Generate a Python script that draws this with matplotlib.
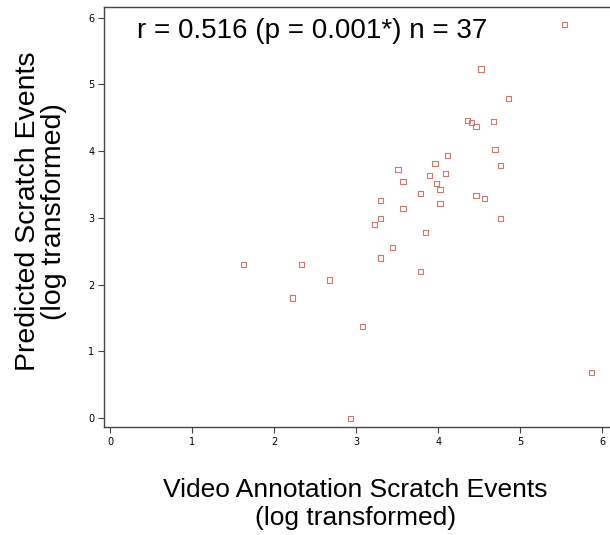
import numpy as np
import matplotlib.pyplot as plt

# video annotation (x) vs predicted (y) scratch events, both log transformed
video = [1.63, 2.22, 2.33, 2.67,
         5.54, 4.52, 4.86, 4.36, 4.40, 4.46, 4.67, 4.69, 4.76, 4.11,
         3.96, 4.09, 3.89, 3.51, 3.57, 3.98, 4.02, 3.78, 4.46, 4.56,
         4.02, 3.30, 3.57, 3.30, 3.22, 4.76, 3.84, 3.44, 3.30, 3.78,
         3.08, 5.87, 2.93]
predicted = [2.30, 1.80, 2.30, 2.07,
             5.90, 5.23, 4.79, 4.46, 4.43, 4.37, 4.44, 4.03, 3.78, 3.93,
             3.81, 3.67, 3.64, 3.72, 3.55, 3.51, 3.43, 3.37, 3.34, 3.29,
             3.22, 3.26, 3.14, 2.99, 2.90, 2.99, 2.78, 2.56, 2.40, 2.20,
             1.38, 0.69, 0.00]
ticks = [0, 1, 2, 3, 4, 5, 6]

fig = plt.figure(figsize=(6.1, 5.35), dpi=100)
# right edge runs just past the canvas, as in the original crop
ax = fig.add_axes([0.1705, 0.202, 0.84, 0.785])

ax.scatter(video, predicted, marker='s', s=14, facecolors='none',
           edgecolors='#cc7a6e', linewidths=0.8)

ax.set_xlim(-0.073, 6.17)
ax.set_ylim(-0.13, 6.16)
ax.set_xticks(ticks)
ax.set_yticks(ticks)
for s in ax.spines.values():
    s.set_color('#444444')
    s.set_linewidth(1.0)
ax.tick_params(direction='out', length=4, width=0.8, colors='#444444',
               labelsize=7, pad=3)
for lab in ax.get_xticklabels() + ax.get_yticklabels():
    lab.set_family(['Liberation Sans Narrow', 'DejaVu Sans'])
    lab.set_color('black')

ax.text(0.33, 5.70, 'r = 0.516 (p = 0.001*) n = 37', va='baseline',
        fontsize=20, family=['Liberation Sans', 'DejaVu Sans'])

ax.set_xlabel('Video Annotation Scratch Events\n(log transformed)', fontsize=19,
              family=['Liberation Sans', 'DejaVu Sans'], labelpad=22.5,
              linespacing=1.2)
ax.xaxis.label.set_x(0.49)
ax.set_ylabel('Predicted Scratch Events\n(log transformed)', fontsize=20.5,
              family=['Liberation Sans', 'DejaVu Sans'], labelpad=15,
              linespacing=1.0)
ax.yaxis.label.set_y(0.514)

fig.savefig('out.png', dpi=100)
